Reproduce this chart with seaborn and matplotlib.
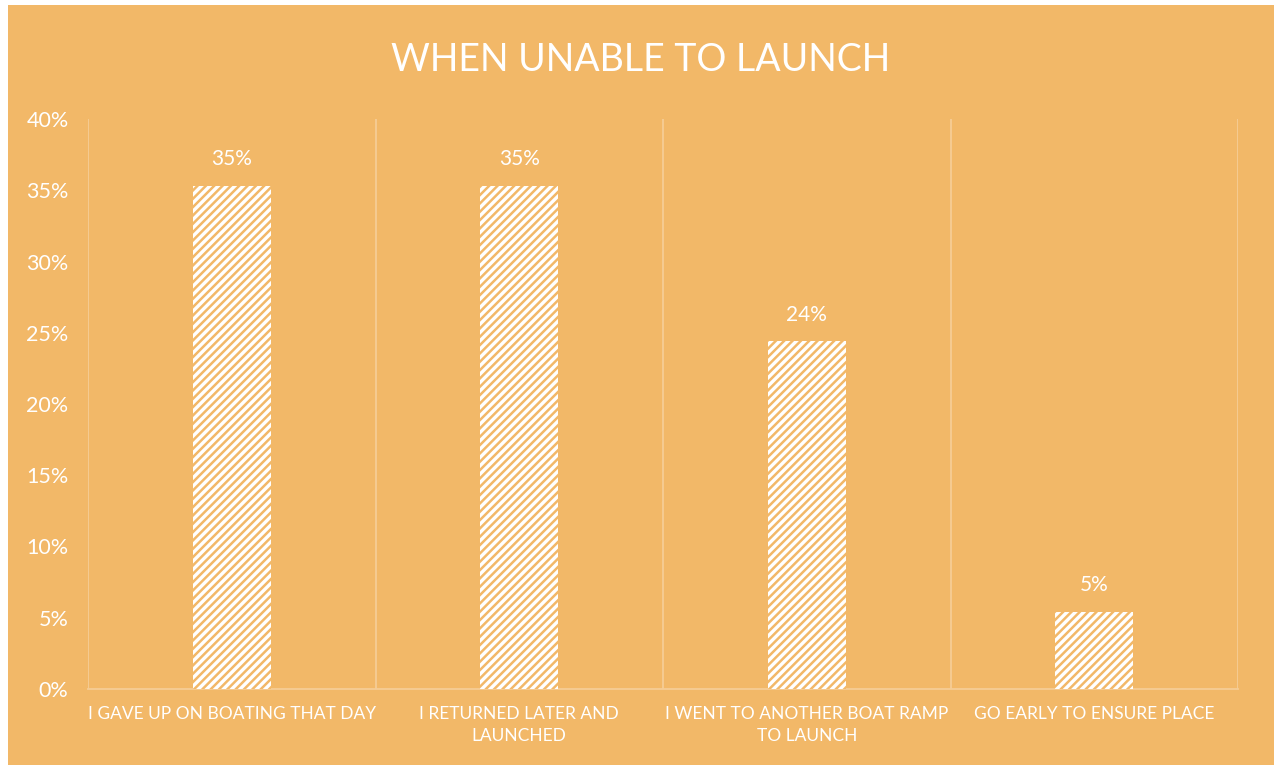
import matplotlib
matplotlib.use("Agg")
import matplotlib.pyplot as plt
from matplotlib.patches import Rectangle
from matplotlib.ticker import FuncFormatter, FixedLocator
import seaborn as sns
import pandas as pd

# Survey responses: what people did when they could not launch their boat
categories = [
    "I GAVE UP ON BOATING THAT DAY",
    "I RETURNED LATER AND\nLAUNCHED",
    "I WENT TO ANOTHER BOAT RAMP\nTO LAUNCH",
    "GO EARLY TO ENSURE PLACE",
]
shares = [35.3, 35.3, 24.4, 5.4]
y_ticks = [0, 5, 10, 15, 20, 25, 30, 35, 40]

BG = "#F2B868"
GRID = "#F6CD95"
WHITE = "#FFFFFF"
FONT = "Lato"

sns.set_theme(style="white")
plt.rcParams["font.family"] = [FONT, "DejaVu Sans"]
plt.rcParams["hatch.linewidth"] = 1.8

df = pd.DataFrame({"response": categories, "share": shares})

fig = plt.figure(figsize=(12.74, 7.65), dpi=100, facecolor=WHITE)
fig.patches.append(Rectangle((8 / 1274, 0), 1 - 8 / 1274, 1 - 5 / 765,
                             transform=fig.transFigure, facecolor=BG,
                             edgecolor="none", zorder=-10))

ax = fig.add_axes([88 / 1274, 1 - 689 / 765, (1238 - 88) / 1274, (689 - 119) / 765])
ax.set_zorder(5)
ax.patch.set_alpha(0)

sns.barplot(data=df, x="response", y="share", ax=ax, color=WHITE,
            width=0.27, saturation=1, zorder=3)
for bar in ax.patches:
    bar.set_hatch("////")
    bar.set_edgecolor(BG)
    bar.set_linewidth(0)

ax.bar_label(ax.containers[0], labels=[f"{v:.0f}%" for v in shares],
             padding=12, color=WHITE, fontsize=15, family=FONT)

ax.set_xlim(-0.5, len(categories) - 0.5)
ax.set_ylim(0, 40)
ax.yaxis.set_major_locator(FixedLocator(y_ticks))
ax.yaxis.set_major_formatter(FuncFormatter(lambda v, _: f"{v:.0f}%"))

# Vertical separators between categories
ax.xaxis.set_minor_locator(FixedLocator([i - 0.5 for i in range(len(categories) + 1)]))
ax.grid(which="minor", axis="x", color=GRID, linewidth=1.3, zorder=1)
ax.grid(which="major", visible=False)

for side in ["top", "right", "left"]:
    ax.spines[side].set_visible(False)
ax.spines["bottom"].set_color(GRID)
ax.spines["bottom"].set_linewidth(1.3)

ax.tick_params(axis="y", length=0, pad=14, labelsize=15.5, labelcolor=WHITE)
ax.tick_params(axis="x", which="both", length=0, pad=12, labelsize=12.5, labelcolor=WHITE)
for lbl in ax.get_xticklabels():
    lbl.set_linespacing(1.45)
ax.set_xlabel("")
ax.set_ylabel("")

fig.text(641 / 1274, 1 - 60 / 765, "WHEN UNABLE TO LAUNCH", ha="center", va="center",
         color=WHITE, fontsize=27, family=FONT, zorder=6)

fig.savefig("out.png", dpi=100, facecolor=WHITE)
